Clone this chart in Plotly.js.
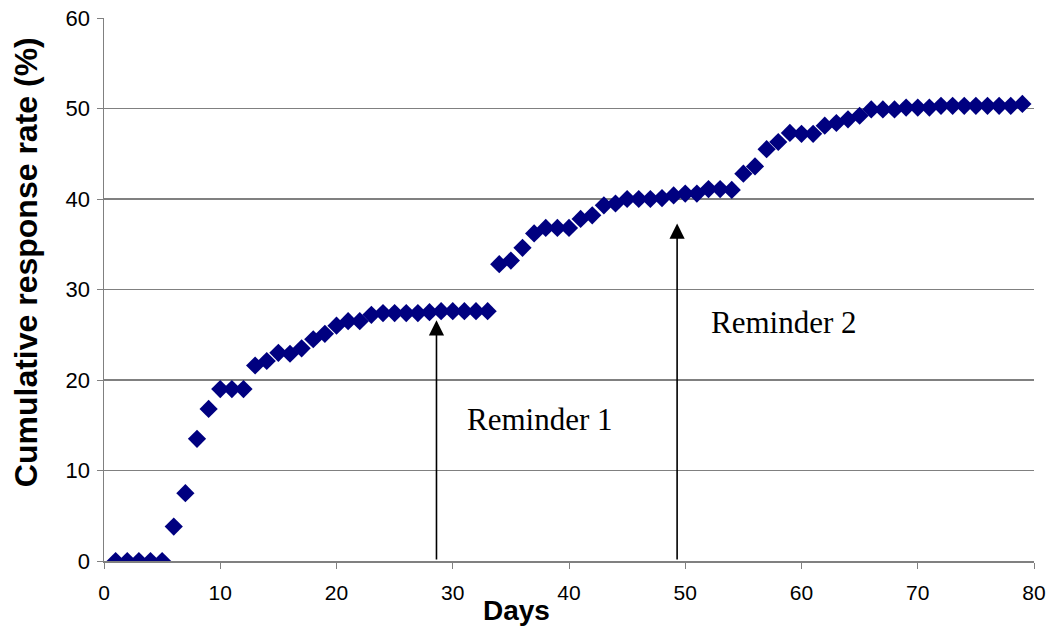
<!DOCTYPE html>
<html>
<head>
<meta charset="utf-8">
<script src="https://cdn.plot.ly/plotly-3.0.1.min.js"></script>
<style>html,body{margin:0;padding:0;background:#fff;}#chart{width:1054px;height:633px;}</style>
</head>
<body>
<div id="chart"></div>
<script>
var days = [];
for (var d = 1; d <= 79; d++) days.push(d);
var responseRate = [
  0, 0, 0, 0, 0, 3.8, 7.5, 13.5, 16.8, 19.0,
  19.0, 19.0, 21.6, 22.1, 23.0, 22.9, 23.5, 24.5, 25.1, 26.0,
  26.5, 26.5, 27.2, 27.4, 27.4, 27.4, 27.4, 27.5, 27.6, 27.6,
  27.6, 27.6, 27.6, 32.8, 33.2, 34.6, 36.2, 36.8, 36.8, 36.8,
  37.8, 38.2, 39.3, 39.5, 40.0, 40.0, 40.0, 40.1, 40.4, 40.6,
  40.6, 41.1, 41.1, 41.0, 42.8, 43.6, 45.5, 46.3, 47.3, 47.2,
  47.2, 48.1, 48.4, 48.8, 49.2, 49.9, 49.9, 49.9, 50.1, 50.1,
  50.1, 50.3, 50.3, 50.3, 50.3, 50.3, 50.3, 50.3, 50.5
];
var reminderLabels = ["Reminder 1", "Reminder 2"];
var reminderDays = [28.6, 49.3];
var reminderTips = [26.6, 37.3];
var labelX = [37.5, 58.5];
var labelY = [15.6, 26.3];
var xTitle = 'Days';
var yTitle = 'Cumulative response rate (%)';

var trace = {
  x: days, y: responseRate, type: 'scatter', mode: 'markers',
  marker: {symbol: 'diamond', size: 14, color: '#000080'},
  hoverinfo: 'x+y'
};

var annotations = [];
for (var i = 0; i < reminderLabels.length; i++) {
  annotations.push({
    x: reminderDays[i], y: reminderTips[i], xref: 'x', yref: 'y',
    ax: reminderDays[i], ay: 0, axref: 'x', ayref: 'y',
    showarrow: true, arrowhead: 2, arrowsize: 1.9, arrowwidth: 1.6, arrowcolor: '#000', text: ''
  });
  annotations.push({
    x: labelX[i], y: labelY[i], xref: 'x', yref: 'y', showarrow: false,
    text: reminderLabels[i],
    font: {family: 'Liberation Serif, serif', size: 31, color: '#000'}
  });
}
annotations.push({
  text: '<b>' + xTitle + '</b>', xref: 'paper', yref: 'paper', x: 0.4435, y: -0.092,
  xanchor: 'center', yanchor: 'middle', showarrow: false,
  font: {family: 'Liberation Sans, Arial', size: 28, color: '#000'}
});
annotations.push({
  text: '<b>' + yTitle + '</b>', xref: 'paper', yref: 'paper', x: -0.083, y: 0.55,
  xanchor: 'center', yanchor: 'middle', showarrow: false, textangle: -90,
  font: {family: 'Liberation Sans, Arial', size: 32, color: '#000'}
});

var layout = {
  width: 1054, height: 633,
  margin: {l: 104, r: 20, t: 18, b: 72, pad: 0},
  paper_bgcolor: '#fff', plot_bgcolor: '#fff',
  showlegend: false,
  xaxis: {
    range: [0, 80], tickmode: 'linear', tick0: 0, dtick: 10,
    showgrid: false, zeroline: false, showline: true, linecolor: '#808080', linewidth: 1.5,
    ticks: 'outside', ticklen: 6, tickcolor: '#808080', ticklabelstandoff: 6,
    tickfont: {family: 'Liberation Sans Narrow, Arial Narrow, Liberation Sans, Arial', size: 21, color: '#000'}
  },
  yaxis: {
    range: [0, 60], tickmode: 'linear', tick0: 0, dtick: 10,
    showgrid: true, gridcolor: '#808080', gridwidth: 1.2, zeroline: false,
    showline: true, linecolor: '#808080', linewidth: 1.5,
    ticks: 'outside', ticklen: 6, tickcolor: '#808080', ticklabelstandoff: 2,
    tickfont: {family: 'Liberation Sans, Arial', size: 22, color: '#000'}
  },
  annotations: annotations
};

Plotly.newPlot('chart', [trace], layout, {displayModeBar: false, staticPlot: true});
</script>
</body>
</html>
